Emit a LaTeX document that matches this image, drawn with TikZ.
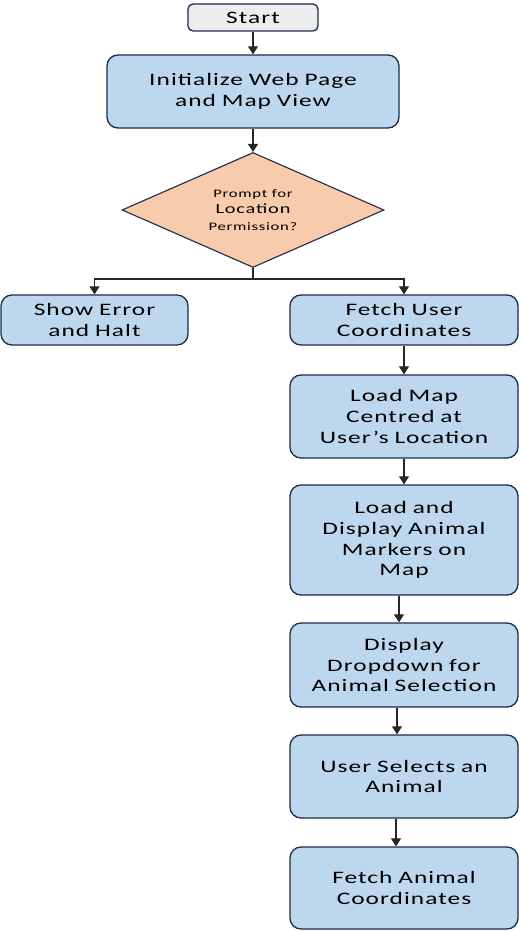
\documentclass[tikz,border=0pt]{standalone}
\usepackage{fontspec}
\setmainfont[FakeStretch=1.45,LetterSpace=6]{Carlito}
\usetikzlibrary{shapes.geometric,arrows.meta}
\definecolor{boxblue}{HTML}{BDD7EE}
\definecolor{boxedge}{HTML}{1C2A48}
\definecolor{startgray}{HTML}{EDEDED}
\definecolor{decpeach}{HTML}{F8CBAD}
\tikzset{
	stepbox/.style={draw=boxedge,line width=1.3pt,fill=boxblue,rounded corners=11pt,
		align=center,text width=#1-8pt,minimum width=#1,inner sep=0pt},
	stepbox/.default=228pt,
	startbox/.style={draw=boxedge,line width=1.3pt,fill=startgray,rounded corners=5pt,
		minimum width=130pt,minimum height=27pt,inner sep=0pt},
	decbox/.style={diamond,aspect=2.3,draw=boxedge,line width=1.1pt,fill=decpeach,
		minimum width=262pt,minimum height=115pt,inner sep=0pt,align=center},
	link/.style={->,line width=1.1pt,draw=black!85},
}
\begin{document}
\begin{tikzpicture}[x=1pt,y=-1pt,>={Triangle[length=8pt,width=10pt]},font=\fontsize{17.5}{20.8}\selectfont]
		\useasboundingbox (0,0) rectangle (520,931);
		\node[startbox] (start) at (253,17.5) {Start};
		\node[stepbox=292pt,minimum height=73pt] (init) at (253,91.5) {Initialize Web Page\\and Map View};
		\node[decbox] (perm) at (253,210) {{\fontsize{11.5}{13}\selectfont Prompt for}\\[-4pt]{\fontsize{14}{14.5}\selectfont Location}\\[-4pt]{\fontsize{11.5}{13}\selectfont Permission?}};
		\node[stepbox=187pt,minimum height=50pt] (err) at (94.5,320) {Show Error\\and Halt};
		\node[stepbox,minimum height=50pt] (fetch) at (404,320) {Fetch User\\Coordinates};
		\node[stepbox,minimum height=83pt] (loadmap) at (404,416.5) {Load Map\\Centred at\\User’s Location};
		\node[stepbox,minimum height=110pt] (markers) at (404,540) {Load and\\Display Animal\\Markers on\\Map};
		\node[stepbox,minimum height=84pt] (dropdown) at (404,665) {Display\\Dropdown for\\Animal Selection};
		\node[stepbox,minimum height=83pt] (select) at (404,776.5) {User Selects an\\Animal};
		\node[stepbox,minimum height=82pt] (fetchanimal) at (404,888) {Fetch Animal\\Coordinates};
		\coordinate (split) at (253,279);
		\draw[link] (start) -- (init);
		\draw[link] (init) -- (perm);
		\draw[line width=1.1pt,draw=black!85] (perm.south) -- (split);
		\draw[link] (split) -| (err.north);
		\draw[link] (split) -| (fetch.north);
		\draw[link] (fetch) -- (loadmap);
		\draw[link] (loadmap) -- (markers);
		\draw[link] ([xshift=-5pt]markers.south) -- ([xshift=-5pt]dropdown.north);
		\draw[link] ([xshift=-7pt]dropdown.south) -- ([xshift=-7pt]select.north);
		\draw[link] ([xshift=-8pt]select.south) -- ([xshift=-8pt]fetchanimal.north);
\end{tikzpicture}
\end{document}
